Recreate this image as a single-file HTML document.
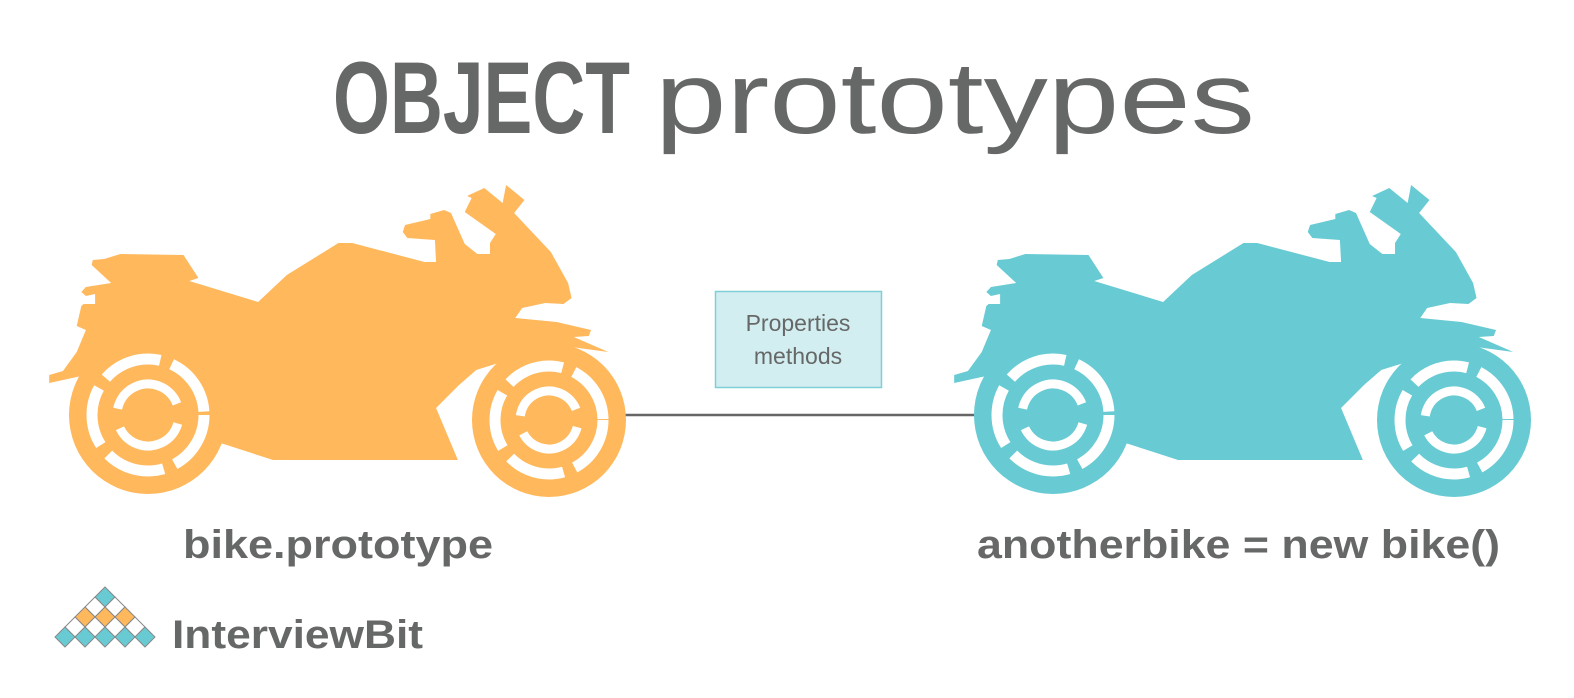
<!DOCTYPE html>
<html><head><meta charset="utf-8"><style>
html,body{margin:0;padding:0;background:#fff;}
svg{display:block;}
text{font-family:"Liberation Sans",sans-serif;fill:#666867;}
</style></head><body>
<svg width="1574" height="698" viewBox="0 0 1574 698" xmlns="http://www.w3.org/2000/svg">
<defs>
<g id="bike">
<path transform="translate(40,0) scale(1.148,1) translate(-40,0)" d="M48,383 L48,375 L60,371 L72,352 L80,330 L72,326 L76,306 L78,304 L88,304 L88,294 L80,296 L76,292 L80,287 L102,283 L85,265 L86,260 L96,259 L110,254 L165,255 L178,278 L170,281 L230,302 L255,275 L300,243 L312,243 L375,262 L385,262 L384,240 L360,238 L356,232 L358,225 L380,219 L380,214 L392,210 L398,213 L410,244 L421,254 L432,254 L432,243 L437,234 L410,212 L416,198 L412,196 L427,188 L443,203 L446,185 L462,200 L453,213 L485,252 L500,283 L503,298 L496,304 L480,303 L460,308 L454,318 L490,322 L520,330 L518,336 L505,337 L535,352 L490,345 L420,370 L405,385 L385,408 L404,460 L243,460 L200,444 L185,440 L170,410 L150,405 L140,395 L120,395 L90,372 L80,375 Z" />
<circle cx="148" cy="415" r="79"/>
<circle cx="549" cy="420" r="77"/>
</g>
<g id="rings" fill="none" stroke="#fff">
<circle cx="148" cy="415" r="56" stroke-width="11" stroke-dasharray="60 12"/>
<circle cx="148" cy="415" r="31" stroke-width="9" stroke-dasharray="75 20" transform="rotate(200 148 415)"/>
<circle cx="549" cy="420" r="54" stroke-width="11" stroke-dasharray="58 12"/>
<circle cx="549" cy="420" r="29" stroke-width="9" stroke-dasharray="70 18" transform="rotate(200 549 420)"/>
</g>
</defs>

<text x="333" y="133" font-size="102" font-weight="bold" textLength="297" lengthAdjust="spacingAndGlyphs">OBJECT</text>
<text x="655" y="133" font-size="102" textLength="600" lengthAdjust="spacingAndGlyphs">prototypes</text>

<line x1="620" y1="415" x2="975" y2="415" stroke="#666" stroke-width="2.5"/>
<rect x="715.5" y="291.5" width="166" height="96" fill="#d3eef0" stroke="#7fd0d6" stroke-width="1.5"/>
<text x="798" y="331" font-size="23" text-anchor="middle" fill="#555">Properties</text>
<text x="798" y="364" font-size="23" text-anchor="middle" fill="#555">methods</text>

<g fill="#ffb85c"><use href="#bike"/></g>
<use href="#rings"/>
<g transform="translate(905,0)">
<g fill="#68cbd3"><use href="#bike"/></g>
<use href="#rings"/>
</g>

<text x="183" y="558" font-size="40" font-weight="bold" textLength="310" lengthAdjust="spacingAndGlyphs">bike.prototype</text>
<text x="977" y="558" font-size="40" font-weight="bold" textLength="523" lengthAdjust="spacingAndGlyphs">anotherbike = new bike()</text>

<g stroke="#888" stroke-width="1">
<polygon points="105,587 115,597 105,607 95,597" fill="#68cbd3"/>
<polygon points="95,597 105,607 95,617 85,607" fill="#fff"/>
<polygon points="115,597 125,607 115,617 105,607" fill="#fff"/>
<polygon points="85,607 95,617 85,627 75,617" fill="#ffb85c"/>
<polygon points="105,607 115,617 105,627 95,617" fill="#ffb85c"/>
<polygon points="125,607 135,617 125,627 115,617" fill="#ffb85c"/>
<polygon points="75,617 85,627 75,637 65,627" fill="#fff"/>
<polygon points="95,617 105,627 95,637 85,627" fill="#fff"/>
<polygon points="115,617 125,627 115,637 105,627" fill="#fff"/>
<polygon points="135,617 145,627 135,637 125,627" fill="#fff"/>
<polygon points="65,627 75,637 65,647 55,637" fill="#68cbd3"/>
<polygon points="85,627 95,637 85,647 75,637" fill="#68cbd3"/>
<polygon points="105,627 115,637 105,647 95,637" fill="#68cbd3"/>
<polygon points="125,627 135,637 125,647 115,637" fill="#68cbd3"/>
<polygon points="145,627 155,637 145,647 135,637" fill="#68cbd3"/>
</g>
<text x="172" y="648" font-size="40" font-weight="bold" textLength="251" lengthAdjust="spacingAndGlyphs" fill="#6a6a6a">InterviewBit</text>
</svg>
</body></html>
